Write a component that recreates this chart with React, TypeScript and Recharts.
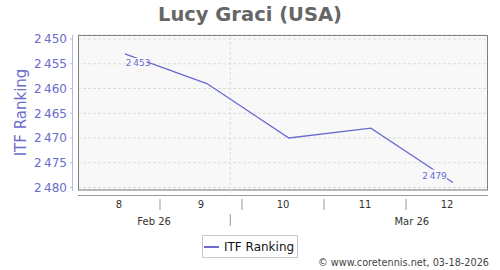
import React from 'react';
import {
  LineChart,
  Line,
  XAxis,
  YAxis,
  CartesianGrid,
  ReferenceLine,
  Legend,
  LabelList,
} from 'recharts';

// ---- data ----
const pointDays = [4, 11, 18, 25, 32]; // days since Mon Feb 16, 2026
const ranks = [2453, 2459, 2470, 2468, 2479];
const seriesName = 'ITF Ranking';

const weekCenters = [3.5, 10.5, 17.5, 24.5, 31.5];
const weekLabels = ['8', '9', '10', '11', '12'];
const weekBoundaries = [7, 14, 21, 28];
const monthCenters = [6.5, 28.5];
const monthLabels = ['Feb 26', 'Mar 26'];
const monthBoundaries = [13];
const yTicks = [2450, 2455, 2460, 2465, 2470, 2475, 2480];

const data = pointDays.map((d, i) => ({ day: d, rank: ranks[i] }));
const xTicks = [...weekCenters, ...weekBoundaries, ...monthCenters, ...monthBoundaries].sort(
  (a, b) => a - b
);

// ---- layout / style ----
const W = 500;
const H = 270;
const FONT = '"DejaVu Sans", sans-serif';
const LINE_COLOR = '#6a6ad0';
const AXIS_PURPLE = '#6b6bcc';
const PLOT_BG = '#f8f8f8';
const PLOT = { left: 78, top: 35, right: 488, bottom: 190 };

const fmt = (v: number) => String(v).replace(/\B(?=(\d{3})+(?!\d))/g, '\u2009');

const XTick = (props: any) => {
  const { x, y, payload } = props;
  const v = payload.value;
  const wi = weekCenters.indexOf(v);
  if (wi >= 0) {
    return (
      <text x={x} y={y + 18} textAnchor="middle" fontSize={10} fill="#333" fontFamily={FONT}>
        {weekLabels[wi]}
      </text>
    );
  }
  const mi = monthCenters.indexOf(v);
  if (mi >= 0) {
    return (
      <text x={x} y={y + 34.5} textAnchor="middle" fontSize={10} fill="#333" fontFamily={FONT}>
        {monthLabels[mi]}
      </text>
    );
  }
  if (weekBoundaries.includes(v)) {
    return <line x1={x} x2={x} y1={y + 9} y2={y + 20} stroke="#999" strokeWidth={1} />;
  }
  if (monthBoundaries.includes(v)) {
    return (
      <g>
        <line x1={x} x2={x} y1={y} y2={y + 5} stroke="#ddd" strokeDasharray="3 2" />
        <line x1={x} x2={x} y1={y + 24} y2={y + 36} stroke="#999" strokeWidth={1} />
      </g>
    );
  }
  return null;
};

const YTick = (props: any) => {
  const { x, y, payload } = props;
  return (
    <g>
      <line x1={x - 8} x2={x - 5} y1={y} y2={y} stroke="#b8b8e6" strokeWidth={1} />
      <text
        x={x - 11}
        y={y + 4.3}
        textAnchor="end"
        fontSize={12}
        fill={AXIS_PURPLE}
        fontFamily={FONT}
      >
        {fmt(payload.value)}
      </text>
    </g>
  );
};

const renderLabel = (props: any) => {
  const { x, y, value, index } = props;
  if (index === 0) {
    return (
      <g>
        <rect x={x + 1} y={y + 4} width={21} height={10} fill={PLOT_BG} />
        <text x={x + 1} y={y + 12} fontSize={9} fill={LINE_COLOR} fontFamily={FONT}>
          {fmt(value)}
        </text>
      </g>
    );
  }
  if (index === data.length - 1) {
    return (
      <g>
        <rect x={x - 21} y={y - 13} width={15} height={10.5} fill={PLOT_BG} />
        <text
          x={x - 6}
          y={y - 4}
          textAnchor="end"
          fontSize={9}
          fill={LINE_COLOR}
          fontFamily={FONT}
        >
          {fmt(value)}
        </text>
      </g>
    );
  }
  return null;
};

const LegendContent = () => (
  <div
    style={{
      boxSizing: 'border-box',
      width: 96,
      height: 23,
      border: '1px solid #c8c8c8',
      background: '#fff',
      display: 'flex',
      alignItems: 'center',
      fontFamily: FONT,
      fontSize: 12,
      color: '#111',
      whiteSpace: 'nowrap',
    }}
  >
    <span
      style={{
        display: 'inline-block',
        width: 15,
        height: 2,
        background: LINE_COLOR,
        marginLeft: 1,
        marginRight: 5,
      }}
    />
    <span>{seriesName}</span>
  </div>
);

export default function App() {
  return (
    <div style={{ position: 'absolute', left: 0, top: 0, width: W, height: H, background: '#fff' }}>
      <LineChart
        width={W}
        height={H}
        data={data}
        margin={{ top: PLOT.top, right: W - PLOT.right, bottom: 40, left: 0 }}
      >
        <CartesianGrid
          vertical={false}
          stroke="#dcdcdc"
          strokeDasharray="3 2"
          fill={PLOT_BG}
          fillOpacity={1}
        />
        <ReferenceLine x={13} stroke="#dcdcdc" strokeDasharray="3 2" />
        <XAxis
          dataKey="day"
          type="number"
          domain={[0, 35]}
          ticks={xTicks}
          interval={0}
          height={40}
          axisLine={false}
          tickLine={false}
          tickSize={0}
          tickMargin={0}
          tick={<XTick />}
        />
        <YAxis
          dataKey="rank"
          type="number"
          domain={[2450, 2480]}
          reversed
          ticks={yTicks}
          interval={0}
          width={78}
          padding={{ top: 4, bottom: 2.5 }}
          axisLine={false}
          tickLine={false}
          tickSize={0}
          tickMargin={0}
          tick={<YTick />}
        />
        <rect
          x={PLOT.left + 0.5}
          y={PLOT.top + 0.5}
          width={PLOT.right - PLOT.left - 1}
          height={PLOT.bottom - PLOT.top - 0.5}
          fill="none"
          stroke="#808080"
          strokeWidth={1}
        />
        <line
          x1={PLOT.left - 5.5}
          x2={PLOT.left - 5.5}
          y1={PLOT.top}
          y2={PLOT.bottom + 1}
          stroke="#b8b8e6"
          strokeWidth={1}
        />
        <line
          x1={PLOT.left}
          x2={PLOT.right}
          y1={PLOT.bottom + 5.5}
          y2={PLOT.bottom + 5.5}
          stroke="#999"
          strokeWidth={1}
        />
        <Line
          type="linear"
          dataKey="rank"
          name={seriesName}
          stroke={LINE_COLOR}
          strokeWidth={1.3}
          dot={false}
          activeDot={false}
          isAnimationActive={false}
        >
          <LabelList dataKey="rank" content={renderLabel} />
        </Line>
        <Legend
          layout="horizontal"
          verticalAlign="middle"
          align="center"
          wrapperStyle={{ top: 235, left: 202, width: 96, height: 23 }}
          content={<LegendContent />}
        />
        <text
          x={250}
          y={21}
          textAnchor="middle"
          fontSize={19.5}
          fontWeight="bold"
          fill="#666"
          fontFamily={FONT}
        >
          Lucy Graci (USA)
        </text>
        <text
          transform="translate(26,112.5) rotate(-90)"
          x={0}
          y={0}
          textAnchor="middle"
          fontSize={15}
          fill={AXIS_PURPLE}
          fontFamily={FONT}
        >
          ITF Ranking
        </text>
        <text x={489} y={266} textAnchor="end" fontSize={9.7} fill="#444" fontFamily={FONT}>
          © www.coretennis.net, 03-18-2026
        </text>
      </LineChart>
    </div>
  );
}
